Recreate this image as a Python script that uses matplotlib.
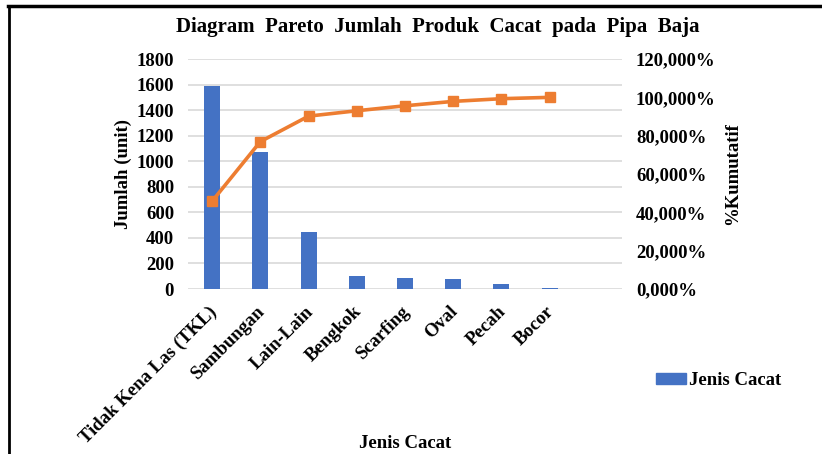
import matplotlib
matplotlib.use("Agg")
import matplotlib.pyplot as plt
from matplotlib.lines import Line2D
from matplotlib.ticker import FuncFormatter, MultipleLocator
from matplotlib.transforms import ScaledTranslation

# data
categories = ["Tidak Kena Las (TKL)", "Sambungan", "Lain-Lain", "Bengkok",
              "Scarfing", "Oval", "Pecah", "Bocor", ""]
jumlah = [1585, 1070, 444, 102, 86, 78, 39, 8, 0]
kumulatif = [45.8, 76.9, 90.2, 93.0, 95.6, 97.9, 99.3, 100.0]

BLUE = "#4472C4"
ORANGE = "#ED7D31"
GRID = "#D9D9D9"
FONT = "Liberation Serif"

plt.rcParams["font.family"] = FONT
plt.rcParams["font.weight"] = "bold"

fig = plt.figure(figsize=(8.22, 4.54), dpi=100)
ax = fig.add_axes([0.2287, 0.3634, 0.5280, 0.5066])
ax2 = ax.twinx()

x = list(range(len(categories)))
ax.bar(x, jumlah, width=0.33, color=BLUE, zorder=2, label="Jenis Cacat")
ax2.plot(x[:len(kumulatif)], kumulatif, color=ORANGE, lw=2.6, marker="s",
         markersize=7, zorder=3)

ax.set_xlim(-0.5, len(categories) - 0.5)
ax.set_ylim(0, 1800)
ax.yaxis.set_major_locator(MultipleLocator(200))
ax2.set_ylim(0, 120)
ax2.yaxis.set_major_locator(MultipleLocator(20))
ax2.yaxis.set_major_formatter(FuncFormatter(lambda v, p: f"{v:.3f}%".replace(".", ",")))

ax.grid(axis="y", color=GRID, lw=1.2, zorder=0)
ax.set_axisbelow(True)
for a in (ax, ax2):
    for s in a.spines.values():
        s.set_visible(False)
    a.tick_params(length=0, labelsize=13.5)
ax.tick_params(axis="y", pad=10)
ax2.tick_params(axis="y", pad=10)

ax.set_xticks(x)
ax.set_xticklabels(categories, rotation=45, ha="right", va="top",
                   rotation_mode="anchor", fontsize=13.5)
ax.tick_params(axis="x", pad=10)
shift = ScaledTranslation(-0.04, 0, fig.dpi_scale_trans)
for lbl in ax.get_xticklabels():
    lbl.set_transform(lbl.get_transform() + shift)

ax.set_ylabel("Jumlah (unit)", fontsize=13.5, fontweight="bold", labelpad=3)
ax2.set_ylabel("%Kumutatif", fontsize=13.5, fontweight="bold", labelpad=6)

fig.text(0.532, 0.94, "Diagram  Pareto  Jumlah  Produk  Cacat  pada  Pipa  Baja",
         ha="center", va="center", fontsize=15, fontweight="bold")
fig.text(0.4927, 0.024, "Jenis Cacat", ha="center", va="center",
         fontsize=13.5, fontweight="bold")

handles = [plt.Rectangle((0, 0), 1, 1, color=BLUE)]
fig.legend(handles, ["Jenis Cacat"], loc="center left",
           bbox_to_anchor=(0.777, 0.161), frameon=False, fontsize=13.5,
           handlelength=1.6, handleheight=0.55, handletextpad=0.2)

# frame around the chart (top and left edges visible)
fig.add_artist(Line2D([0.0105, 0.0105], [0.0, 0.986], color="black", lw=2,
                      transform=fig.transFigure))
fig.add_artist(Line2D([0.0095, 1.0], [0.986, 0.986], color="black", lw=2.5,
                      transform=fig.transFigure))

fig.savefig("out.png", dpi=100)
